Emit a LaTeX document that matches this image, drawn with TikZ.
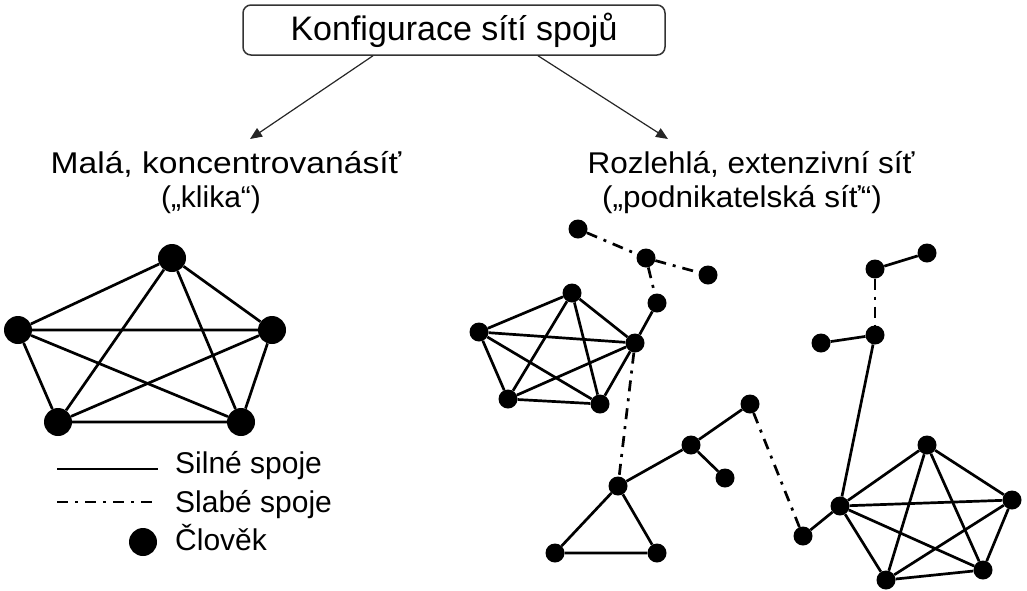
\documentclass[tikz,border=0pt]{standalone}
\usepackage{fontspec}
\setmainfont{Liberation Sans}
\newfontfamily\sirokeL[FakeStretch=1.12]{Liberation Sans}
\newfontfamily\sirokeR[FakeStretch=1.05]{Liberation Sans}
\usetikzlibrary{arrows.meta}

\begin{document}
\begin{tikzpicture}[x=1pt, y=-1pt,
  font=\fontsize{30}{34}\selectfont,
  titul/.style={rectangle, rounded corners=8pt, draw=black!80, line width=1.5pt,
                minimum width=422pt, minimum height=50pt, inner sep=0pt,
                font=\fontsize{34}{40}\selectfont},
  popis/.style={anchor=base, inner sep=0pt},
  legtext/.style={anchor=base west, inner sep=0pt},
  clovek/.style={circle, fill=black, inner sep=0pt, minimum size=28pt},
  osoba/.style={circle, fill=black, inner sep=0pt, minimum size=19pt},
  sipka/.style={-{Triangle[length=12pt,width=10pt]}, line width=1.2pt, black!85},
  silny/.style={line width=2.7pt},
  slaby/.style={line width=2.7pt, dash pattern=on 11pt off 7pt on 3pt off 7pt},
]
\useasboundingbox (0,0) rectangle (1027,590);

% title and the two branches
\node[titul] (konfig) at (454,30) {Konfigurace sítí spojů};
\node[popis, font=\sirokeL\fontsize{30}{34}\selectfont] (mala) at (226,173) {Malá, koncentrovanásíť};
\node[popis] (klika) at (211,207) {(„klika“)};
\node[popis, font=\sirokeR\fontsize{30}{34}\selectfont] (rozl) at (751,173) {Rozlehlá, extenzivní síť};
\node[popis, font=\sirokeR\fontsize{30}{34}\selectfont] (podnik) at (742,207) {(„podnikatelská síť“)};
\coordinate (hrotL) at (250,139);
\coordinate (hrotR) at (668,139);
\draw[sipka] ([xshift=-81pt]konfig.south) -- (hrotL);
\draw[sipka] ([xshift=84pt]konfig.south) -- (hrotR);

% clique
\node[clovek] (k1) at (172,258) {};
\node[clovek] (k2) at (18,330) {};
\node[clovek] (k3) at (272,330) {};
\node[clovek] (k4) at (58,422) {};
\node[clovek] (k5) at (241,422) {};

% extensive network: small pentagon
\node[osoba] (p1) at (572,293) {};
\node[osoba] (p2) at (479,332) {};
\node[osoba] (p3) at (635,343) {};
\node[osoba] (p4) at (508,399) {};
\node[osoba] (p5) at (600,404) {};
% big pentagon
\node[osoba] (q1) at (927,445) {};
\node[osoba] (q2) at (840,506) {};
\node[osoba] (q3) at (1012,500) {};
\node[osoba] (q4) at (886,580) {};
\node[osoba] (q5) at (983,570) {};

\foreach \a/\b in {1/2,1/3,1/4,1/5,2/3,2/4,2/5,3/4,3/5,4/5}
  \draw[silny] (k\a) -- (k\b) (p\a) -- (p\b) (q\a) -- (q\b);

% loose people
\node[osoba] (u1) at (578,229) {};
\node[osoba] (u2) at (646,258) {};
\node[osoba] (u3) at (708,275) {};
\node[osoba] (u4) at (657,303) {};
\node[osoba] (v1) at (618,486) {};
\node[osoba] (v2) at (691,445) {};
\node[osoba] (v3) at (725,478) {};
\node[osoba] (v4) at (750,404) {};
\node[osoba] (v5) at (803,536) {};
\node[osoba] (t1) at (555,553) {};
\node[osoba] (t2) at (657,553) {};
\node[osoba] (w1) at (927,253) {};
\node[osoba] (w2) at (875,269) {};
\node[osoba] (w3) at (875,335) {};
\node[osoba] (w4) at (821,343) {};

% strong ties
\draw[silny] (u4) -- (p3);
\draw[silny] (v1) -- (v2) -- (v4);
\draw[silny] (v2) -- (v3);
\draw[silny] (v1) -- (t1) -- (t2) -- (v1);
\draw[silny] (v5) -- (q2);
\draw[silny] (w2) -- (w1);
\draw[silny] (w4) -- (w3) -- (q2);

% weak ties
\draw[slaby] (u1) -- (u2) -- (u3);
\draw[slaby] (u2) -- (u4);
\draw[slaby] (p3) -- (v1);
\draw[slaby] (v4) -- (v5);
\draw[slaby] (w2) -- (w3);

% legend
\draw[silny] (57,469) -- (158,469);
\draw[slaby] (57,502) -- (158,502);
\node[clovek] (vzor) at (143,542) {};
\node[legtext] (leg1) at (175,473) {Silné spoje};
\node[legtext] (leg2) at (175,512) {Slabé spoje};
\node[legtext] (leg3) at (175,550) {Člověk};
\end{tikzpicture}
\end{document}
